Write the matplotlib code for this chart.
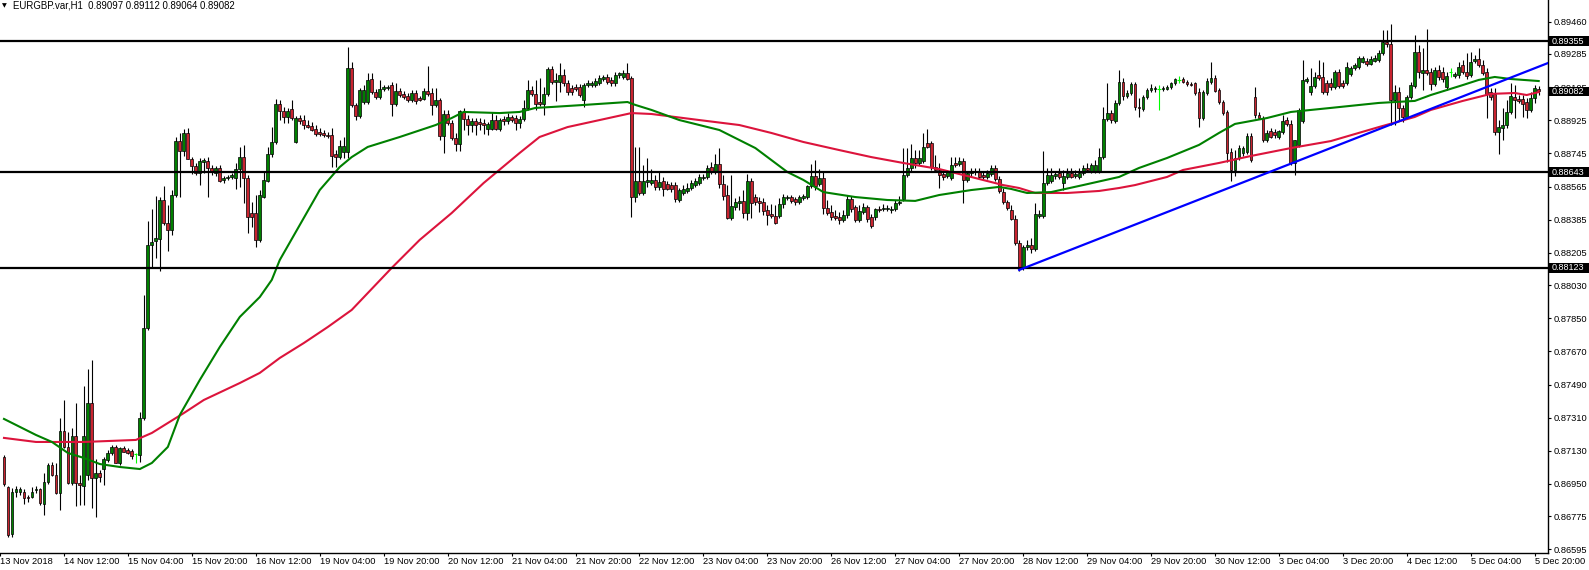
import numpy as np
import pandas as pd
import matplotlib
matplotlib.use("Agg")
import matplotlib.pyplot as plt
from matplotlib.patches import Rectangle
from matplotlib.transforms import blended_transform_factory

# ---------------------------------------------------------
# Data: EURGBP H1 bars, prices in points (1e-5)
# ---------------------------------------------------------
HEADER = "EURGBP.var,H1  0.89097 0.89112 0.89064 0.89082"
LAST_BAR_TIME = "2018-12-05 21:00"

open_pts = [
    87096, 86934, 86678, 86906, 86906, 86906, 86879, 86879, 86917, 86923,
    86841, 86961, 87053, 86999, 86901, 87238, 87151, 86955, 87211, 86955,
    86939, 86999, 87390, 86982, 87010, 87031, 87080, 87118, 87151, 87064,
    87145, 87134, 87129, 87113, 87107, 87308, 87797, 88248, 88269, 88280,
    88492, 88367, 88329, 88519, 88812, 88758, 88856, 88715, 88677, 88639,
    88698, 88704, 88666, 88639, 88666, 88601, 88611, 88617, 88611, 88660,
    88725, 88611, 88421, 88421, 88275, 88508, 88595, 88742, 88807, 89013,
    88975, 88943, 88986, 88807, 88937, 88926, 88899, 88894, 88878, 88861,
    88856, 88845, 88845, 88742, 88725, 88753, 88753, 89209, 89008, 88948,
    89024, 89024, 89149, 89078, 89051, 89095, 89100, 89116, 89013, 89084,
    89068, 89057, 89035, 89073, 89046, 89040, 89084, 89073, 89008, 89035,
    88840, 88959, 88910, 88829, 88796, 88970, 88932, 88899, 88921, 88916,
    88910, 88878, 88878, 88926, 88878, 88932, 88921, 88943, 88937, 88910,
    88932, 88992, 89089, 89068, 89024, 89013, 89068, 89203, 89133, 89133,
    89171, 89127, 89100, 89106, 89106, 89035, 89116, 89116, 89116, 89127,
    89149, 89160, 89144, 89127, 89171, 89160, 89182, 89154, 88508, 88595,
    88530, 88590, 88584, 88601, 88563, 88595, 88579, 88573, 88573, 88492,
    88530, 88541, 88557, 88573, 88584, 88611, 88617, 88671, 88644, 88687,
    88579, 88519, 88394, 88454, 88476, 88487, 88421, 88595, 88508, 88487,
    88481, 88438, 88416, 88405, 88405, 88470, 88503, 88508, 88497, 88481,
    88503, 88508, 88568, 88622, 88579, 88611, 88449, 88427, 88405, 88400,
    88383, 88411, 88497, 88454, 88383, 88427, 88454, 88400, 88400, 88443,
    88443, 88443, 88438, 88443, 88476, 88497, 88628, 88666, 88720, 88693,
    88704, 88802, 88802, 88671, 88655, 88633, 88622, 88611, 88693, 88687,
    88704, 88601, 88639, 88644, 88644, 88628, 88617, 88633, 88666, 88606,
    88535, 88481, 88438, 88389, 88259, 88128, 88237, 88248, 88226, 88405,
    88405, 88584, 88595, 88622, 88639, 88584, 88617, 88639, 88622, 88617,
    88639, 88666, 88649, 88649, 88649, 88725, 88932, 88964, 88921, 89019,
    89133, 89057, 89073, 89122, 88997, 88986, 89051, 89089, 89095, 89095,
    89095, 89095, 89106, 89127, 89144, 89149, 89133, 89122, 89127, 89078,
    88937, 89073, 89133, 89154, 89089, 89024, 88970, 88753, 88655, 88720,
    88747, 88753, 88840, 89051, 88954, 88937, 88818, 88867, 88861, 88834,
    88861, 88926, 88905, 88693, 88791, 88921, 89138, 89078, 89111, 89171,
    89160, 89127, 89127, 89106, 89187, 89127, 89127, 89176, 89209, 89214,
    89241, 89247, 89230, 89247, 89252, 89290, 89350, 89339, 89035, 89078,
    88992, 88943, 89051, 89111, 89296, 89182, 89198, 89187, 89122, 89198,
    89187, 89106, 89187, 89165, 89171, 89225, 89187, 89171, 89247, 89258,
    89225, 89187, 89078, 89068, 88861, 88883, 88899, 88970, 89051, 89040,
    89040, 89024, 88981, 89046, 89097,
]
high_pts = [
    87107, 86939, 86928, 86939, 86934, 86923, 86890, 86934, 86939, 86928,
    87010, 87064, 87069, 87064, 87308, 87406, 87232, 87254, 87390, 86999,
    87482, 87574, 87623, 87086, 87026, 87096, 87134, 87162, 87162, 87151,
    87156, 87145, 87140, 87118, 87341, 87976, 88378, 88443, 88514, 88508,
    88568, 88465, 88546, 88834, 88856, 88878, 88883, 88725, 88693, 88720,
    88720, 88725, 88682, 88677, 88682, 88622, 88628, 88639, 88693, 88780,
    88791, 88628, 88481, 88519, 88546, 88644, 88780, 88888, 89040, 89035,
    88997, 88992, 89035, 88948, 88954, 88954, 88926, 88916, 88899, 88883,
    88872, 88861, 88883, 88763, 88818, 88834, 89323, 89241, 89019, 89100,
    89116, 89182, 89182, 89095, 89144, 89116, 89116, 89133, 89127, 89100,
    89084, 89073, 89089, 89089, 89057, 89100, 89220, 89100, 89100, 89046,
    88981, 88981, 88926, 88856, 88981, 88992, 88954, 88937, 88937, 88937,
    88932, 88916, 88970, 88954, 88937, 88948, 88964, 88954, 88954, 88948,
    89035, 89144, 89111, 89144, 89154, 89106, 89214, 89220, 89182, 89236,
    89203, 89144, 89116, 89122, 89122, 89127, 89144, 89138, 89154, 89171,
    89171, 89176, 89160, 89187, 89187, 89198, 89236, 89165, 88780, 88780,
    88682, 88720, 88660, 88628, 88644, 88617, 88595, 88590, 88590, 88557,
    88573, 88584, 88601, 88611, 88633, 88633, 88682, 88698, 88742, 88774,
    88628, 88573, 88628, 88503, 88514, 88546, 88633, 88611, 88525, 88508,
    88503, 88465, 88470, 88465, 88503, 88525, 88519, 88519, 88508, 88519,
    88525, 88573, 88687, 88709, 88660, 88644, 88492, 88465, 88438, 88427,
    88438, 88519, 88514, 88465, 88465, 88476, 88465, 88416, 88449, 88459,
    88470, 88465, 88459, 88492, 88514, 88774, 88774, 88796, 88763, 88763,
    88856, 88878, 88812, 88736, 88693, 88655, 88655, 88725, 88725, 88725,
    88720, 88649, 88666, 88666, 88666, 88644, 88655, 88682, 88682, 88622,
    88557, 88492, 88465, 88411, 88275, 88248, 88275, 88286, 88476, 88438,
    88758, 88666, 88666, 88649, 88666, 88655, 88666, 88666, 88655, 88666,
    88682, 88693, 88693, 88709, 88774, 88997, 89127, 88981, 89035, 89198,
    89154, 89089, 89133, 89133, 89046, 89062, 89100, 89122, 89111, 89116,
    89111, 89116, 89133, 89154, 89165, 89160, 89144, 89133, 89133, 89100,
    89089, 89154, 89241, 89171, 89100, 89035, 88981, 88774, 88763, 88791,
    88785, 88856, 88856, 89106, 88970, 88948, 88872, 88883, 88878, 88872,
    88954, 88943, 88926, 88818, 88992, 89252, 89160, 89209, 89187, 89252,
    89241, 89144, 89154, 89198, 89203, 89144, 89241, 89220, 89236, 89274,
    89274, 89263, 89274, 89279, 89307, 89415, 89415, 89448, 89116, 89106,
    89008, 89062, 89133, 89388, 89334, 89317, 89421, 89209, 89214, 89225,
    89214, 89187, 89209, 89187, 89241, 89252, 89290, 89296, 89279, 89317,
    89252, 89209, 89100, 89100, 88926, 88992, 89035, 89127, 89116, 89062,
    89062, 89046, 89078, 89116, 89112,
]
low_pts = [
    86939, 86662, 86662, 86879, 86890, 86841, 86852, 86874, 86901, 86836,
    86782, 86950, 86993, 86896, 86809, 87145, 86950, 86944, 86830, 86836,
    86836, 86972, 86820, 86771, 86961, 86944, 87069, 87107, 87064, 87053,
    87124, 87113, 87086, 87064, 87069, 87297, 87786, 88128, 88177, 88106,
    88356, 88215, 88302, 88508, 88508, 88731, 88715, 88633, 88628, 88573,
    88639, 88508, 88628, 88622, 88590, 88584, 88601, 88606, 88552, 88563,
    88476, 88313, 88345, 88237, 88264, 88503, 88590, 88725, 88796, 88926,
    88910, 88910, 88926, 88802, 88905, 88878, 88883, 88867, 88840, 88840,
    88834, 88829, 88671, 88671, 88715, 88720, 88720, 88997, 88926, 88937,
    89013, 89013, 89068, 89040, 89040, 89084, 89089, 88948, 89002, 89051,
    89040, 89024, 89024, 89013, 89030, 89035, 89057, 88954, 88997, 88818,
    88747, 88899, 88818, 88758, 88758, 88872, 88845, 88861, 88845, 88872,
    88850, 88845, 88872, 88872, 88867, 88899, 88905, 88916, 88872, 88883,
    88921, 88981, 89057, 88981, 89002, 88954, 89057, 89122, 89030, 89078,
    89111, 89062, 89062, 89084, 89051, 88997, 89106, 89106, 89106, 89116,
    89138, 89122, 89111, 89111, 89154, 89149, 89144, 88400, 88481, 88519,
    88519, 88563, 88573, 88546, 88546, 88514, 88546, 88535, 88481, 88481,
    88519, 88530, 88546, 88563, 88573, 88601, 88606, 88633, 88633, 88557,
    88492, 88389, 88383, 88438, 88438, 88394, 88383, 88394, 88465, 88427,
    88411, 88356, 88394, 88362, 88394, 88449, 88492, 88476, 88465, 88470,
    88492, 88497, 88557, 88546, 88568, 88416, 88411, 88383, 88383, 88362,
    88373, 88394, 88427, 88373, 88373, 88416, 88373, 88340, 88383, 88427,
    88432, 88432, 88421, 88432, 88465, 88487, 88617, 88649, 88666, 88682,
    88693, 88774, 88655, 88644, 88557, 88601, 88611, 88601, 88671, 88677,
    88476, 88590, 88622, 88628, 88606, 88606, 88606, 88622, 88595, 88530,
    88470, 88438, 88383, 88248, 88106, 88112, 88221, 88204, 88215, 88394,
    88394, 88573, 88584, 88606, 88606, 88546, 88606, 88611, 88611, 88606,
    88628, 88644, 88639, 88639, 88639, 88715, 88921, 88910, 88910, 89008,
    89035, 89046, 89062, 88981, 88943, 88975, 89040, 89078, 89078, 88981,
    89084, 89089, 89095, 89116, 89127, 89127, 89111, 89111, 89062, 88888,
    88926, 89062, 89122, 89078, 89013, 88954, 88698, 88595, 88622, 88709,
    88731, 88742, 88698, 88937, 88932, 88807, 88807, 88829, 88829, 88823,
    88850, 88894, 88682, 88628, 88780, 88910, 89127, 89062, 89100, 89144,
    89068, 89062, 89089, 89095, 89100, 89100, 89116, 89165, 89198, 89203,
    89236, 89220, 89225, 89241, 89241, 89279, 89323, 88899, 88899, 88926,
    88916, 88932, 89040, 89100, 89154, 89089, 89171, 89089, 89111, 89144,
    89133, 89089, 89160, 89154, 89154, 89176, 89149, 89160, 89236, 89214,
    89171, 88937, 89035, 88845, 88742, 88818, 88883, 88959, 88937, 89019,
    88943, 88937, 88970, 89019, 89064,
]
close_pts = [
    86950, 86673, 86906, 86923, 86923, 86874, 86874, 86906, 86923, 86847,
    86961, 87053, 86999, 86901, 87238, 87151, 86955, 87211, 86955, 86944,
    87211, 87390, 86982, 87010, 86988, 87086, 87118, 87151, 87064, 87145,
    87124, 87118, 87102, 87113, 87308, 87797, 88248, 88264, 88286, 88492,
    88367, 88329, 88519, 88812, 88758, 88856, 88715, 88677, 88639, 88704,
    88709, 88666, 88644, 88666, 88595, 88611, 88617, 88628, 88660, 88725,
    88611, 88400, 88400, 88275, 88519, 88601, 88742, 88807, 89013, 88975,
    88943, 88975, 88937, 88937, 88921, 88899, 88888, 88872, 88850, 88850,
    88845, 88840, 88731, 88725, 88785, 88785, 89209, 89008, 88948, 89089,
    89089, 89144, 89078, 89051, 89095, 89106, 89106, 89013, 89084, 89062,
    89051, 89035, 89073, 89030, 89035, 89084, 89068, 89008, 89035, 88840,
    88959, 88910, 88829, 88796, 88975, 88932, 88899, 88921, 88899, 88905,
    88899, 88905, 88926, 88878, 88926, 88921, 88943, 88926, 88910, 88932,
    88992, 89089, 89068, 89013, 89013, 89068, 89203, 89133, 89144, 89171,
    89127, 89078, 89078, 89095, 89062, 89116, 89127, 89127, 89138, 89154,
    89160, 89133, 89127, 89171, 89182, 89182, 89149, 88508, 88595, 88530,
    88595, 88601, 88601, 88563, 88590, 88552, 88552, 88552, 88497, 88546,
    88552, 88557, 88584, 88595, 88617, 88617, 88666, 88644, 88687, 88579,
    88514, 88394, 88459, 88481, 88487, 88421, 88595, 88476, 88481, 88476,
    88432, 88411, 88405, 88367, 88470, 88508, 88508, 88487, 88481, 88508,
    88514, 88568, 88622, 88568, 88611, 88449, 88421, 88400, 88394, 88383,
    88411, 88497, 88443, 88383, 88432, 88454, 88389, 88351, 88443, 88438,
    88449, 88449, 88443, 88476, 88481, 88628, 88666, 88720, 88693, 88720,
    88780, 88780, 88671, 88655, 88628, 88617, 88644, 88682, 88682, 88704,
    88601, 88639, 88649, 88649, 88617, 88617, 88639, 88666, 88606, 88541,
    88481, 88449, 88389, 88259, 88128, 88237, 88248, 88226, 88416, 88416,
    88584, 88628, 88628, 88633, 88617, 88622, 88639, 88617, 88633, 88639,
    88666, 88655, 88682, 88682, 88725, 88932, 88964, 88926, 89019, 89133,
    89057, 89073, 89122, 88997, 88992, 89051, 89089, 89100, 89100, 89095,
    89100, 89106, 89127, 89149, 89144, 89133, 89122, 89116, 89073, 88937,
    89078, 89138, 89154, 89084, 89024, 88964, 88747, 88655, 88720, 88774,
    88774, 88840, 88709, 88954, 88937, 88818, 88856, 88834, 88845, 88867,
    88921, 88905, 88693, 88818, 88981, 89144, 89149, 89111, 89160, 89154,
    89078, 89078, 89106, 89187, 89111, 89111, 89214, 89209, 89225, 89263,
    89263, 89230, 89258, 89263, 89290, 89350, 89339, 89035, 89078, 88992,
    88943, 89051, 89116, 89296, 89187, 89198, 89182, 89122, 89198, 89160,
    89149, 89165, 89187, 89176, 89214, 89187, 89165, 89241, 89258, 89225,
    89182, 89068, 89051, 88861, 88888, 88899, 88970, 89057, 89035, 89030,
    89013, 88981, 89046, 89100, 89082,
]

# moving averages, sampled along the line (bar index, points)
ma_green_bar = [0, 8, 12, 16, 20, 24, 29, 34, 37, 41, 44, 49, 54, 59, 64, 67,
                69, 74, 79, 84, 87, 91, 99, 108, 112, 115, 124, 129, 133, 137,
                145, 156, 158, 162, 169, 179, 188, 196, 200, 205, 213, 221, 228,
                234, 242, 249, 252, 256, 262, 270, 279, 284, 291, 299, 304, 308,
                316, 322, 332, 344, 353, 357, 361, 365, 369, 373, 377, 384]
ma_green_pts = [87303, 87216, 87178, 87118, 87091, 87058, 87042, 87031, 87064,
                87151, 87325, 87515, 87694, 87857, 87965, 88058, 88166, 88356,
                88546, 88671, 88725, 88780, 88834, 88899, 88937, 88970, 88964,
                88970, 88992, 88997, 89008, 89024, 89008, 88981, 88926, 88872,
                88774, 88644, 88601, 88535, 88508, 88492, 88487, 88519, 88546,
                88563, 88552, 88530, 88535, 88573, 88617, 88666, 88720, 88791,
                88856, 88905, 88937, 88970, 88992, 89019, 89030, 89062, 89089,
                89116, 89144, 89160, 89149, 89138]
ma_red_bar = [0, 8, 12, 20, 33, 37, 41, 45, 50, 59, 64, 69, 75, 81, 87, 97,
              104, 112, 120, 129, 134, 141, 149, 157, 162, 174, 184, 192, 200,
              209, 217, 225, 234, 242, 250, 254, 258, 266, 274, 279, 283, 291,
              295, 304, 312, 322, 332, 344, 353, 357, 365, 372, 378, 381, 384]
ma_red_pts = [87200, 87178, 87178, 87178, 87189, 87227, 87281, 87335, 87406,
              87498, 87553, 87634, 87715, 87802, 87895, 88123, 88275, 88421,
              88584, 88747, 88834, 88888, 88926, 88964, 88959, 88926, 88899,
              88856, 88807, 88763, 88725, 88693, 88660, 88617, 88573, 88557,
              88530, 88530, 88541, 88557, 88573, 88617, 88655, 88693, 88731,
              88774, 88812, 88888, 88943, 88981, 89030, 89068, 89073, 89062,
              89078]

level_prices = [0.89355, 0.88643, 0.88123]
last_price = 0.89082
trend_bars = [254, 384]
trend_prices = [0.88112, 0.89216]

y_ticks = [0.89460, 0.89285, 0.89105, 0.88925, 0.88745, 0.88565, 0.88385,
           0.88205, 0.88030, 0.87850, 0.87670, 0.87490, 0.87310, 0.87130,
           0.86950, 0.86775, 0.86595]

BULL = "#008000"
BEAR = "#c8232f"
DOJI = "#00ff00"
FS = 6.7

plt.rcParams["font.family"] = ["Liberation Sans", "DejaVu Sans"]
plt.rcParams["font.size"] = FS

W, H = 1589, 570
AX_W, AX_H, AX_B = 1548, 553, 17

fig = plt.figure(figsize=(W / 100, H / 100), dpi=100)
fig.patch.set_facecolor("white")
ax = fig.add_axes([0, AX_B / H, AX_W / W, AX_H / H])
ax.set_facecolor("white")

o = np.array(open_pts) / 1e5
hi = np.array(high_pts) / 1e5
lo = np.array(low_pts) / 1e5
c = np.array(close_pts) / 1e5
idx = np.arange(len(o))
up = c > o
dn = c < o
flat = c == o

# candles
ax.vlines(idx[~flat], lo[~flat], hi[~flat], color="black", lw=0.8, zorder=2)
ax.bar(idx[up], (c - o)[up], bottom=o[up], width=0.72, color=BULL,
       edgecolor="black", linewidth=0.5, zorder=3)
ax.bar(idx[dn], (o - c)[dn], bottom=c[dn], width=0.72, color=BEAR,
       edgecolor="black", linewidth=0.5, zorder=3)
ax.vlines(idx[flat], lo[flat], hi[flat], color=DOJI, lw=0.8, zorder=3)
ax.hlines(o[flat], idx[flat] - 0.4, idx[flat] + 0.4, color=DOJI, lw=0.8, zorder=3)

# moving averages
ax.plot(ma_red_bar, np.array(ma_red_pts) / 1e5, color="#dc143c", lw=1.5, zorder=4)
ax.plot(ma_green_bar, np.array(ma_green_pts) / 1e5, color="#008000", lw=1.5, zorder=4)

x_left = -2.7 / 4
x_right = (AX_W - 2.7) / 4

# horizontal levels and trend ray
for p in level_prices:
    ax.axhline(p, color="black", lw=1.6, zorder=5)
slope = (trend_prices[1] - trend_prices[0]) / (trend_bars[1] - trend_bars[0])
ax.plot([trend_bars[0], x_right],
        [trend_prices[0], trend_prices[0] + slope * (x_right - trend_bars[0])],
        color="#0000ff", lw=1.6, zorder=5)

ax.set_xlim(x_left, x_right)
ax.set_ylim(0.86575, 0.89578)

# time axis: hourly bars, weekends skipped, label every 16 bars
times = pd.date_range("2018-11-13 20:00", LAST_BAR_TIME, freq="h")
times = times[times.dayofweek < 5]
bar_of = {t: k - 1 for k, t in enumerate(times)}
tick_times = times[::16]
ax.set_xticks([bar_of[t] for t in tick_times])
labels = ["13 Nov 2018"] + [f"{t.day} {t:%b %H:%M}" for t in tick_times[1:]]
ax.set_xticklabels(labels, ha="left")

ax.yaxis.tick_right()
ax.set_yticks(y_ticks)
ax.set_yticklabels([f"{v:.5f}" for v in y_ticks])

ax.tick_params(axis="both", direction="out", length=2.5, width=0.8,
               colors="black", labelsize=FS)
ax.tick_params(axis="x", pad=0.5)
ax.tick_params(axis="y", pad=1.5)

for side in ["top", "left"]:
    ax.spines[side].set_visible(False)
for side in ["right", "bottom"]:
    ax.spines[side].set_color("black")
    ax.spines[side].set_linewidth(1.0)

# price labels on the right scale
trans = blended_transform_factory(ax.transAxes, ax.transData)
box_h = 0.00052
for p in level_prices + [last_price]:
    ax.add_patch(Rectangle((1.0 + 1 / AX_W, p - box_h / 2), 40 / AX_W, box_h,
                           transform=trans, facecolor="black", edgecolor="none",
                           clip_on=False, zorder=10))
    ax.text(1.0 + 4 / AX_W, p, f"{p:.5f}", transform=trans, color="white",
            fontsize=6.5, va="center", ha="left", clip_on=False, zorder=11)

# header
fig.text(2 / W, 1 - 5.5 / H, "\u25bc", fontsize=4.5, family="DejaVu Sans",
         va="center", ha="left")
fig.text(13 / W, 1 - 5.5 / H, HEADER, fontsize=6.9, va="center", ha="left")

fig.savefig("out.png", dpi=100, facecolor="white")
